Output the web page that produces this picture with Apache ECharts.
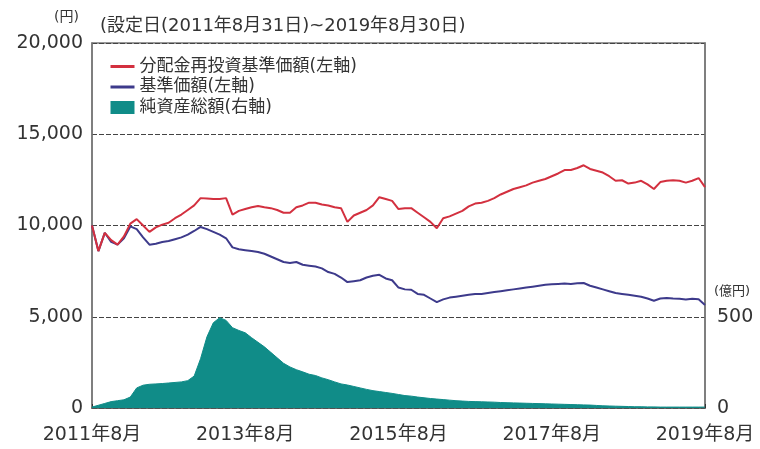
<!DOCTYPE html>
<html>
<head>
<meta charset="utf-8">
<script src="https://cdn.jsdelivr.net/npm/echarts@6/dist/echarts.min.js"></script>
<style>
html,body{margin:0;padding:0;background:#fff;}
#c{width:760px;height:449px;}
</style>
</head>
<body>
<div id="c"></div>
<script>
// Month categories: 2011年8月 ... 2019年8月 (monthly)
const startYear = 2011, startMonth = 8, monthCount = 97;
const categories = [];
for (let i = 0; i < monthCount; i++) {
  const t = startYear * 12 + (startMonth - 1) + i;
  categories.push(Math.floor(t / 12) + '年' + (t % 12 + 1) + '月');
}

// 分配金再投資基準価額 (円, left axis)
const reinvestNav = [
  10000, 8600, 9600, 9200, 8950, 9400, 10100, 10350, 10000, 9650,
  9900, 10050, 10150, 10400, 10600, 10850, 11100, 11500, 11480, 11450,
  11450, 11500, 10600, 10800, 10900, 11000, 11070, 11000, 10950, 10850,
  10700, 10700, 11000, 11100, 11250, 11250, 11150, 11100, 11000, 10950,
  10200, 10550, 10700, 10850, 11100, 11550, 11450, 11350, 10900, 10950,
  10950, 10700, 10450, 10200, 9850, 10400, 10500, 10650, 10800, 11050,
  11200, 11250, 11350, 11500, 11700, 11850, 12000, 12100, 12200, 12350,
  12450, 12550, 12700, 12850, 13040, 13040, 13150, 13300, 13100, 13000,
  12900, 12700, 12450, 12480, 12300, 12350, 12450, 12250, 12000, 12380,
  12450, 12480, 12450, 12350, 12450, 12600, 12100
];

// 基準価額 (円, left axis)
const nav = [
  10000, 8600, 9600, 9100, 8950, 9300, 9950, 9800, 9350, 8950,
  9000, 9100, 9150, 9250, 9350, 9500, 9700, 9920, 9800, 9650,
  9500, 9300, 8800, 8700, 8650, 8600, 8550, 8450, 8300, 8150,
  8000, 7950, 8000, 7850, 7800, 7750, 7650, 7450, 7350, 7150,
  6900, 6950, 7000, 7150, 7250, 7300, 7100, 7000, 6600, 6500,
  6480, 6250, 6200, 6000, 5800, 5950, 6050, 6100, 6150, 6200,
  6250, 6250, 6300, 6350, 6400, 6450, 6500, 6550, 6600, 6650,
  6700, 6750, 6780, 6800, 6820, 6800, 6830, 6850, 6700, 6600,
  6500, 6400, 6300, 6250, 6200, 6150, 6100, 6000, 5880, 6000,
  6030, 6000, 5980, 5950, 5980, 5960, 5650
];

// 純資産総額 (億円, right axis)
const netAssets = [
  5, 15, 25, 35, 40, 45, 60, 110, 125, 130,
  132, 134, 137, 140, 143, 150, 175, 270, 390, 467,
  495, 480, 440, 425, 412, 385, 360, 335, 305, 275,
  245, 225, 210, 198, 185, 178, 165, 155, 143, 132,
  126, 118, 110, 102, 95, 90, 85, 80, 74, 68,
  65, 60, 56, 52, 49, 46, 43, 40, 38, 36,
  35, 34, 33, 32, 30, 29, 28, 27, 26, 25,
  24, 23, 22, 21, 20, 19, 18, 17, 16, 14,
  12, 11, 10, 9, 8, 7, 7, 6, 6, 5,
  5, 5, 5, 5, 5, 5, 5
];

const seriesNames = ['分配金再投資基準価額(左軸)', '基準価額(左軸)', '純資産総額(右軸)'];
const leftTicks = [0, 5000, 10000, 15000, 20000];
const rightTicks = [0, 500];

const FONT = "'DejaVu Sans','Noto Sans CJK JP',sans-serif";
const RED = '#d3303f', BLUE = '#3d3a8b', TEAL = '#108c88';

const chart = echarts.init(document.getElementById('c'), null, {renderer: 'canvas'});
chart.setOption({
  animation: false,
  backgroundColor: '#fff',
  title: {
    text: '(設定日(2011年8月31日)~2019年8月30日)',
    left: 95, top: 12,
    textStyle: {fontFamily: FONT, fontSize: 18, fontWeight: 'normal', color: '#333'}
  },
  graphic: [
    {type: 'text', left: 54, top: 10, style: {text: '(円)', font: "14px " + FONT, fill: '#333'}},
    {type: 'text', left: 714, top: 285, style: {text: '(億円)', font: "13px " + FONT, fill: '#333'}}
  ],
  legend: {
    orient: 'vertical', left: 104, top: 53,
    itemWidth: 24, itemHeight: 13, itemGap: 3.5,
    textStyle: {fontFamily: FONT, fontSize: 17, color: '#333'},
    data: [
      {name: seriesNames[0], itemStyle: {opacity: 0}, lineStyle: {width: 3, opacity: 1}},
      {name: seriesNames[1], itemStyle: {opacity: 0}, lineStyle: {width: 3, opacity: 1}},
      {name: seriesNames[2], icon: 'rect'}
    ]
  },
  grid: {left: 92, right: 55, top: 43, bottom: 41, show: true, borderColor: '#777', borderWidth: 1.5, containLabel: false, outerBoundsMode: 'none'},
  xAxis: {
    type: 'category', data: categories, boundaryGap: false,
    axisLine: {show: true, lineStyle: {color: '#555', width: 1.5}},
    axisTick: {show: true, inside: true, length: 4, interval: 23, lineStyle: {color: '#333'}},
    axisLabel: {interval: 23, margin: 18, fontFamily: FONT, fontSize: 19, color: '#333'},
    splitLine: {show: false}
  },
  yAxis: [
    {
      type: 'value', min: leftTicks[0], max: leftTicks[leftTicks.length - 1], interval: 5000,
      axisLine: {show: true, lineStyle: {color: '#777', width: 1.5}},
      axisTick: {show: false},
      axisLabel: {margin: 9, fontFamily: FONT, fontSize: 19, color: '#333',
        formatter: v => v.toLocaleString('en-US')},
      splitLine: {show: true, lineStyle: {color: '#444', type: [5, 2], width: 1.2}}
    },
    {
      type: 'value', min: 0, max: 2000, interval: 500, position: 'right',
      axisLine: {show: true, lineStyle: {color: '#777', width: 1.5}},
      axisTick: {show: false},
      axisLabel: {margin: 12, fontFamily: FONT, fontSize: 19, color: '#333',
        formatter: v => rightTicks.indexOf(v) >= 0 ? String(v) : ''},
      splitLine: {show: false}
    }
  ],
  series: [
    {
      name: seriesNames[2], type: 'line', yAxisIndex: 1, data: netAssets,
      symbol: 'none', color: TEAL,
      lineStyle: {width: 1, color: TEAL},
      areaStyle: {color: TEAL, opacity: 1}, z: 1
    },
    {
      name: seriesNames[1], type: 'line', yAxisIndex: 0, data: nav,
      symbol: 'none', color: BLUE,
      lineStyle: {width: 2, color: BLUE}, z: 3
    },
    {
      name: seriesNames[0], type: 'line', yAxisIndex: 0, data: reinvestNav,
      symbol: 'none', color: RED,
      lineStyle: {width: 2, color: RED}, z: 4
    }
  ]
});
</script>
</body>
</html>
